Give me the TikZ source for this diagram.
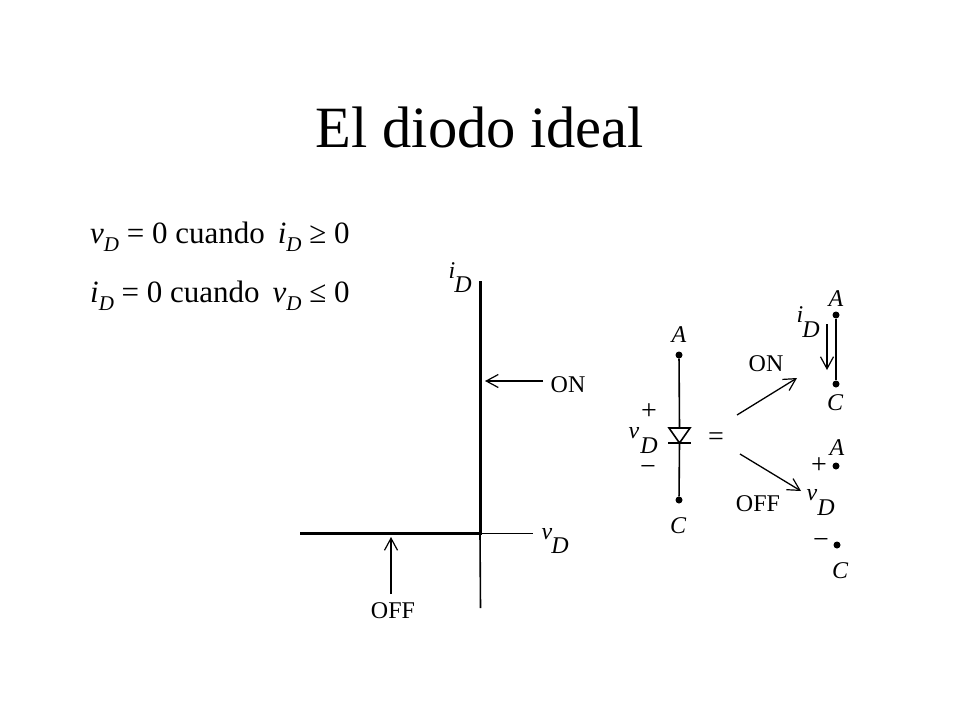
\documentclass[tikz,border=0pt]{standalone}
\usepackage{fontspec}
\setmainfont{Liberation Serif}
\usetikzlibrary{arrows.meta}
\newcommand{\fs}[1]{\fontsize{#1}{#1}\selectfont}
\newcommand{\sbd}[1]{\textit{#1}\raisebox{-0.26em}{\fontsize{21}{21}\selectfont\textit{D}}}
\tikzset{
  x=1pt,y=-1pt,
  titletext/.style={inner sep=0pt,anchor=base,font=\fs{58.5}},
  bodytext/.style={inner sep=0pt,anchor=base west,font=\fs{31}},
  lab/.style={inner sep=0pt,font=\fs{24}},
  ital/.style={inner sep=0pt,font=\fs{24}\itshape},
  sym/.style={inner sep=0pt,font=\fs{28}},
  thickline/.style={line width=3pt,black},
  thinline/.style={line width=1.6pt,black},
  wire/.style={line width=1.6pt,black},
  barb/.style={line width=1.3pt,black,-{Straight Barb[length=12pt,width=13pt,line width=1.2pt]}},
  dot/.style={circle,fill=black,inner sep=0pt,minimum size=7pt}
}
\begin{document}
\begin{tikzpicture}
\path[fill=white] (0,0) rectangle (960,720);
\useasboundingbox (0,0) rectangle (960,720);
\node[titletext] (title) at (480,147) {El diodo ideal};
\node[bodytext] (eqa) at (90,243) {\sbd{v} = 0 cuando\, \sbd{i} ≥ 0};
\node[bodytext] (eqb) at (90,302) {\sbd{i} = 0 cuando\, \sbd{v} ≤ 0};
% characteristic
\coordinate (origin) at (480,533.5);
\coordinate (itop) at (480,281);
\coordinate (ileft) at (300,533.5);
\coordinate (vright) at (533,533.5);
\coordinate (ibot) at (480.5,608);
\draw[thinline] (origin) -- (vright);
\draw[thinline] (origin) -- (ibot);
\draw[thickline] (itop) -- (origin) -- (ileft);
\node[lab] (onA) at (568,385) {ON};
\node[lab] (offA) at (393,611) {OFF};
\coordinate (onAs) at (543,381);
\coordinate (onAe) at (485,381);
\coordinate (offAs) at (391,594);
\coordinate (offAe) at (391,537);
\draw[barb] (onAs) -- (onAe);
\draw[barb] (offAs) -- (offAe);
\node[ital] (iA) at (452,271) {i};
\node[ital] (iAd) at (463,285) {D};
\node[ital] (vA) at (547,534) {v};
\node[ital] (vAd) at (560,546) {D};
% diode
\node[ital] (a1) at (679,335) {A};
\node[dot] (da1) at (679,355) {};
\node[dot] (dc1) at (679,500) {};
\node[ital] (c1) at (678,526) {C};
\coordinate (tl) at (669,428);
\coordinate (tr) at (690,428);
\coordinate (apex) at (679.5,443);
\coordinate (bl) at (668,443);
\coordinate (br) at (691,443);
\draw[wire] (da1) -- (679.5,428);
\draw[wire] (apex) -- (dc1);
\draw[wire,line join=miter] (tl) -- (tr) -- (apex) -- cycle;
\draw[wire] (bl) -- (br);
\node[sym] (p1) at (649,412) {+};
\node[ital] (v1) at (634,433) {v};
\node[ital] (v1d) at (649,446) {D};
\node[sym] (m1) at (648,470) {−};
\node[sym] (eq) at (716,439) {=};
% branches
\coordinate (onBs) at (737,415);
\coordinate (onBe) at (797,378);
\coordinate (offBs) at (740,454);
\coordinate (offBe) at (801,491);
\draw[barb] (onBs) -- (onBe);
\draw[barb] (offBs) -- (offBe);
\node[lab] (onB) at (766,364) {ON};
\node[lab] (offB) at (758,504) {OFF};
% ON state
\node[ital] (a2) at (836,299) {A};
\node[dot] (da2) at (836,315) {};
\node[dot] (dc2) at (836,384) {};
\node[ital] (c2) at (835,403) {C};
\draw[wire] (da2) -- (dc2);
\node[ital] (i2) at (800,315) {i};
\node[ital] (i2d) at (811,330) {D};
\coordinate (cs) at (827,324);
\coordinate (ce) at (827,370);
\draw[barb] (cs) -- (ce);
% OFF state
\node[ital] (a3) at (837,448) {A};
\node[sym] (p3) at (819,466) {+};
\node[dot] (da3) at (836,466) {};
\node[ital] (v3) at (812,495) {v};
\node[ital] (v3d) at (826,508) {D};
\node[sym] (m3) at (821,543) {−};
\node[dot] (dc3) at (837,545) {};
\node[ital] (c3) at (840,571) {C};
\end{tikzpicture}
\end{document}
